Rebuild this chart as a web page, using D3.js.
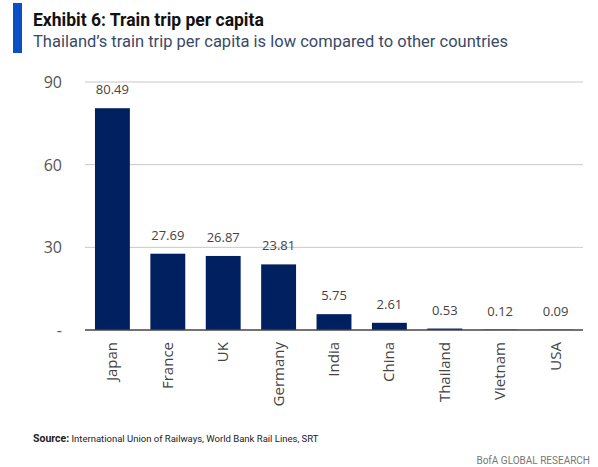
<!DOCTYPE html><html><meta charset="UTF-8">
<title>Train trip per capita</title>
<style>
  body { margin: 0; background: #fff; overflow: hidden; }
  text { font-family: "Open Sans", "Noto Sans", sans-serif; }
</style>
<script src="https://cdn.jsdelivr.net/npm/d3@7"></script>
<svg width="598" height="467"></svg>
<script>
var countries = ["Japan", "France", "UK", "Germany", "India", "China", "Thailand", "Vietnam", "USA"];
var trips = [80.49, 27.69, 26.87, 23.81, 5.75, 2.61, 0.53, 0.12, 0.09];
var yTicks = [0, 30, 60, 90];

var svg = d3.select("svg");

// header
svg.append("rect").attr("x", 13).attr("y", 3).attr("width", 9).attr("height", 50).attr("fill", "#0a4fc4");
svg.append("text").attr("x", 33).attr("y", 26)
    .style("font-family", "Roboto, sans-serif").style("font-weight", "bold").style("font-size", "17.5px")
    .attr("fill", "#111").text("Exhibit 6: Train trip per capita");
svg.append("text").attr("x", 33).attr("y", 47)
    .style("font-family", "Roboto, sans-serif").style("font-size", "16.5px")
    .attr("fill", "#3a4a66").text("Thailand\u2019s train trip per capita is low compared to other countries");

var x = d3.scaleBand().domain(countries).range([85, 583]).paddingInner(0.37).paddingOuter(0.18);
var y = d3.scaleLinear().domain([0, 90]).range([330, 82]);

// gridlines
svg.append("g").selectAll("line").data(yTicks.filter(d => d > 0)).join("line")
    .attr("x1", 85).attr("x2", 583)
    .attr("y1", d => y(d)).attr("y2", d => y(d))
    .attr("stroke", "#c8c8c8").attr("stroke-width", 1);

// y labels
svg.append("g").selectAll("text").data(yTicks).join("text")
    .attr("x", 62).attr("y", d => y(d) + 6)
    .attr("text-anchor", "end")
    .style("font-size", "16px").attr("fill", "#555")
    .text(d => d === 0 ? "-" : d);

// bars
svg.append("g").selectAll("rect").data(trips).join("rect")
    .attr("x", (d, i) => x(countries[i]))
    .attr("width", x.bandwidth())
    .attr("y", d => y(d))
    .attr("height", d => y(0) - y(d))
    .attr("fill", "#002060");

// value labels
svg.append("g").selectAll("text").data(trips).join("text")
    .attr("x", (d, i) => x(countries[i]) + x.bandwidth() / 2)
    .attr("y", d => y(d) - 14)
    .attr("text-anchor", "middle")
    .style("font-size", "13px").attr("fill", "#444")
    .text(d => d.toFixed(2));

// baseline
svg.append("line").attr("x1", 85).attr("x2", 583).attr("y1", y(0)).attr("y2", y(0))
    .attr("stroke", "#444").attr("stroke-width", 1.5);

// x labels
svg.append("g").selectAll("text").data(countries).join("text")
    .attr("transform", d => "translate(" + (x(d) + x.bandwidth() / 2 + 5) + "," + 342 + ") rotate(-90)")
    .attr("text-anchor", "end")
    .style("font-size", "15px").attr("fill", "#444")
    .text(d => d);

// footer
var src = svg.append("text").attr("x", 33).attr("y", 442)
    .style("font-family", "Roboto, sans-serif").style("font-size", "9.5px").attr("fill", "#222");
src.append("tspan").style("font-weight", "bold").style("font-size", "10.5px").text("Source:");
src.append("tspan").text(" International Union of Railways, World Bank Rail Lines, SRT");
svg.append("text").attr("x", 590).attr("y", 464).attr("text-anchor", "end")
    .style("font-family", "Roboto, sans-serif").style("font-size", "10px").attr("fill", "#777")
    .text("BofA GLOBAL RESEARCH");
</script>
</html>
